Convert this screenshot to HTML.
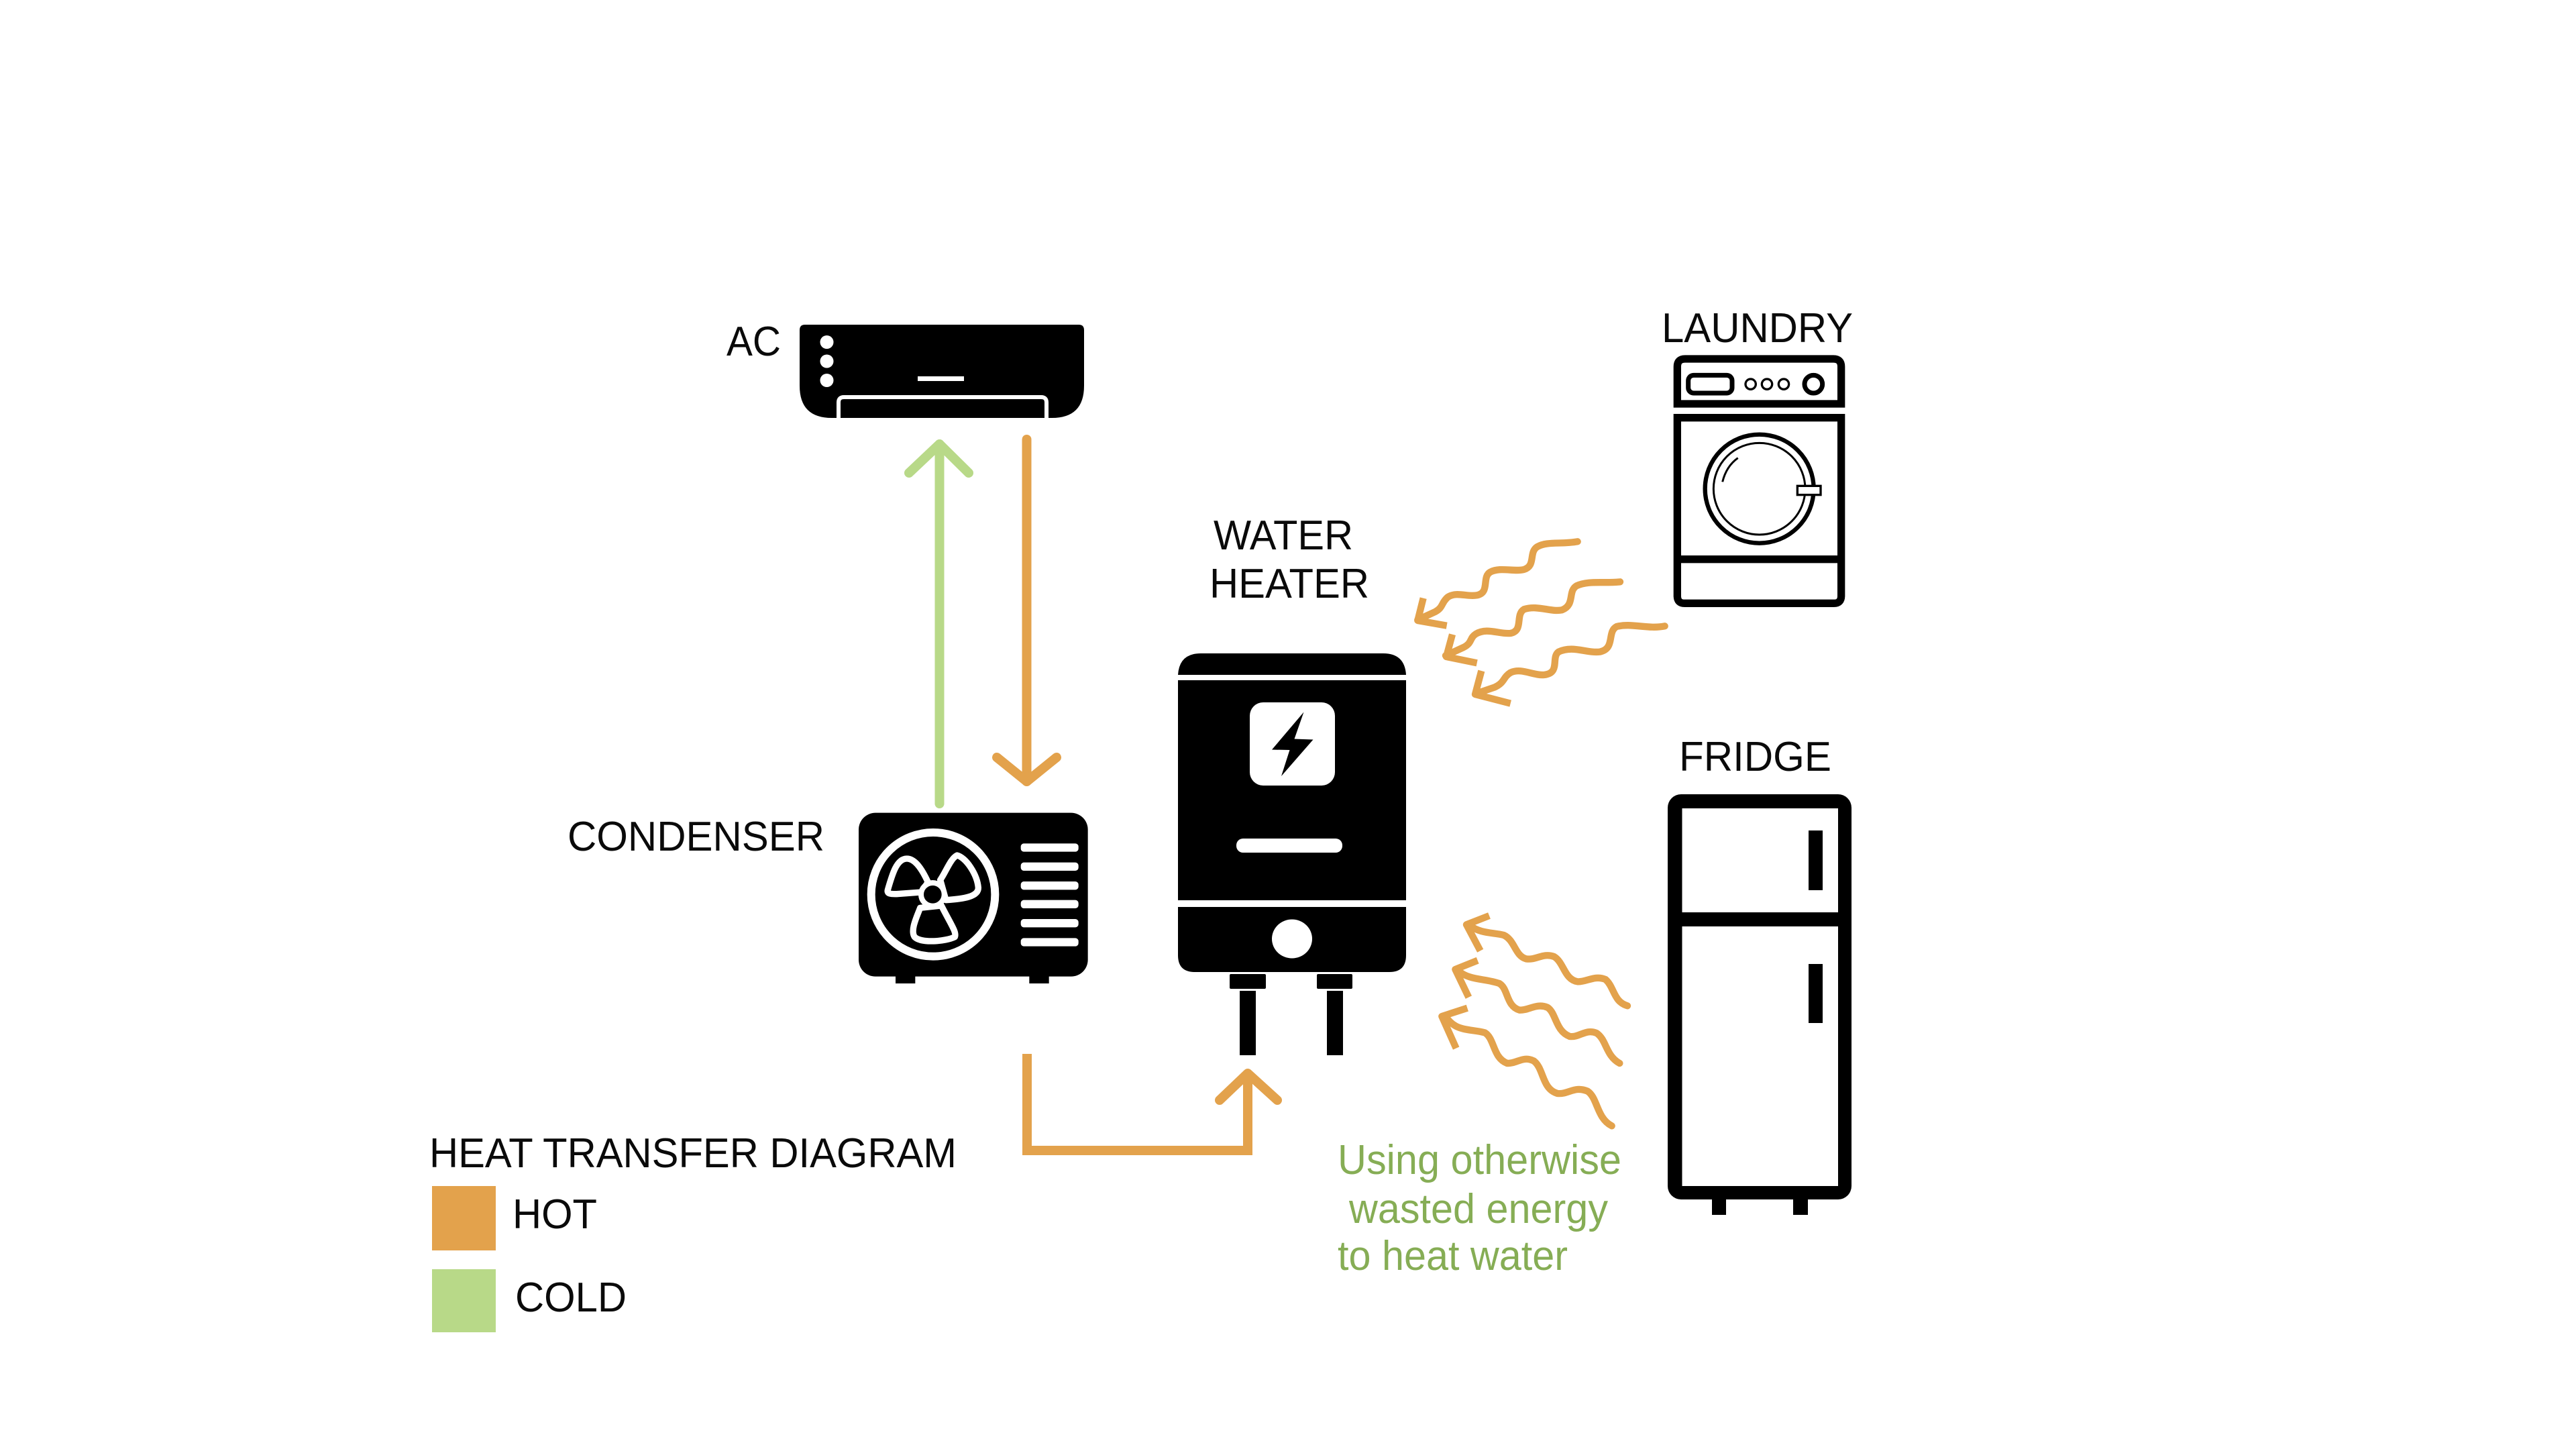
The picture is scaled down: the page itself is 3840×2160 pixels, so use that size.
<!DOCTYPE html>
<html><head><meta charset="utf-8"><title>Heat Transfer Diagram</title>
<style>html,body{margin:0;padding:0;background:#fff}svg{display:block}text{font-family:"Liberation Sans",Arial,sans-serif;font-size:62px;fill:#0a0a0a}.g{fill:#86ad55}</style></head>
<body>
<svg width="3840" height="2160" viewBox="0 0 3840 2160" xmlns="http://www.w3.org/2000/svg">
<rect width="3840" height="2160" fill="#fff"/>

<!-- labels -->
<text x="1083" y="530" textLength="81" lengthAdjust="spacingAndGlyphs">AC</text>
<text x="2477" y="510" textLength="285" lengthAdjust="spacingAndGlyphs">LAUNDRY</text>
<text x="846" y="1268" textLength="383" lengthAdjust="spacingAndGlyphs">CONDENSER</text>
<text x="1809" y="819" textLength="208" lengthAdjust="spacingAndGlyphs">WATER</text>
<text x="1803" y="891" textLength="238" lengthAdjust="spacingAndGlyphs">HEATER</text>
<text x="2503" y="1149" textLength="227" lengthAdjust="spacingAndGlyphs">FRIDGE</text>
<text x="640" y="1740" textLength="786" lengthAdjust="spacingAndGlyphs">HEAT TRANSFER DIAGRAM</text>
<text x="764" y="1831" textLength="126" lengthAdjust="spacingAndGlyphs">HOT</text>
<text x="768" y="1955" textLength="166" lengthAdjust="spacingAndGlyphs">COLD</text>
<text class="g" x="1994" y="1750" textLength="423" lengthAdjust="spacingAndGlyphs">Using otherwise</text>
<text class="g" x="2011" y="1823" textLength="386" lengthAdjust="spacingAndGlyphs">wasted energy</text>
<text class="g" x="1994" y="1893" textLength="343" lengthAdjust="spacingAndGlyphs">to heat water</text>

<!-- legend -->
<rect x="644" y="1768" width="95" height="96" fill="#e3a24c"/>
<rect x="644" y="1892" width="95" height="94" fill="#b8d988"/>

<!-- AC unit -->
<path d="M1200,484 H1608 Q1616,484 1616,492 V575 Q1616,623 1568,623 H1240 Q1192,623 1192,575 V492 Q1192,484 1200,484 Z" fill="#000"/>
<circle cx="1232.5" cy="510" r="10" fill="#fff"/><circle cx="1232.5" cy="538.5" r="10" fill="#fff"/><circle cx="1232.5" cy="567" r="10" fill="#fff"/>
<rect x="1368" y="561" width="69" height="7" fill="#fff"/>
<path d="M1250,623 V600 Q1250,592 1258,592 H1552 Q1560,592 1560,600 V623" fill="none" stroke="#fff" stroke-width="6"/>

<!-- AC arrows -->
<g fill="none" stroke="#b8d988" stroke-width="14" stroke-linecap="round" stroke-linejoin="round">
<path d="M1400.5,1198 V662"/><path d="M1355,705 L1400.5,662 L1444,705"/>
</g>
<g fill="none" stroke="#e3a24c" stroke-width="14" stroke-linecap="round" stroke-linejoin="round">
<path d="M1530.5,655 V1165"/><path d="M1486,1129 L1530.5,1165 L1575,1129"/>
</g>

<!-- condenser -->
<g transform="translate(1250 1180) scale(0.33333)">
<rect x="255" y="780" width="88" height="78" fill="#000"/><rect x="853" y="780" width="88" height="78" fill="#000"/>
<rect x="90" y="95" width="1025" height="732" rx="75" fill="#000"/>
<circle cx="423" cy="460" r="277" fill="none" stroke="#fff" stroke-width="36"/>
<g fill="#000" stroke="#fff" stroke-width="28" stroke-linejoin="round">
<path d="M400,405 C370,340 340,300 305,300 C260,300 240,370 220,440 C215,460 240,458 260,458 L370,450 Z"/>
<path d="M455,395 C480,360 500,300 530,285 C570,295 620,370 625,430 C625,470 560,480 480,485 Z"/>
<path d="M365,520 C350,560 320,620 340,650 C370,680 480,670 520,650 C530,630 500,590 460,510 Z"/>
</g>
<circle cx="421" cy="460" r="52" fill="#000" stroke="#fff" stroke-width="24"/>
<g fill="#fff">
<rect x="815" y="232" width="258" height="37" rx="14"/><rect x="815" y="317" width="258" height="37" rx="14"/><rect x="815" y="402" width="258" height="37" rx="14"/>
<rect x="815" y="485" width="258" height="37" rx="14"/><rect x="815" y="570" width="258" height="37" rx="14"/><rect x="815" y="655" width="258" height="37" rx="14"/>
</g>
</g>

<!-- water heater -->
<path d="M1756,1006 Q1758,974 1790,974 H2062 Q2094,974 2096,1006 Z" fill="#000"/>
<rect x="1756" y="1014" width="340" height="328" fill="#000"/>
<path d="M1756,1352 H2096 V1424 Q2096,1449 2071,1449 H1781 Q1756,1449 1756,1424 Z" fill="#000"/>
<rect x="1863" y="1047" width="127" height="124" rx="20" fill="#fff"/>
<path d="M1943.5,1061.5 L1929.5,1101.5 L1957.5,1102.5 L1910,1157 L1922.5,1118 L1896,1117.5 Z" fill="#000"/>
<rect x="1843" y="1250" width="158" height="21" rx="10" fill="#fff"/>
<ellipse cx="1926" cy="1399.5" rx="30" ry="29" fill="#fff"/>
<rect x="1833" y="1452" width="54" height="22" rx="2" fill="#000"/><rect x="1963" y="1452" width="53" height="22" rx="2" fill="#000"/>
<rect x="1848" y="1477" width="24" height="96" fill="#000"/><rect x="1978" y="1477" width="24" height="96" fill="#000"/>

<!-- L arrow -->
<g fill="none" stroke="#e3a24c" stroke-width="14" stroke-linejoin="miter">
<path d="M1531,1571 V1715 H1860 V1600"/>
<path d="M1818,1640 L1860,1600 L1904,1640" stroke-linecap="round" stroke-linejoin="round"/>
</g>

<!-- heat waves top -->
<g transform="translate(2080 780) scale(0.33333)" fill="none" stroke="#e3a24c" stroke-width="31" stroke-linecap="round" stroke-linejoin="round">
<path d="M815,82 C740,95 680,80 635,105 C595,130 630,190 575,207 C530,218 470,195 425,218 C385,240 425,310 365,322 C320,330 275,305 235,330 C205,355 215,375 180,395 L100,432"/>
<path d="M125,335 L100,435 L230,458" stroke-linecap="butt"/>
<path d="M1005,262 C930,270 865,255 810,280 C770,305 805,365 745,388 C695,398 635,365 575,385 C535,410 575,480 515,492 C465,497 410,465 360,495 C330,515 345,535 305,555 L225,592"/>
<path d="M255,497 L228,597 L365,625" stroke-linecap="butt"/>
<path d="M1205,460 C1130,475 1055,445 990,462 C945,485 985,560 915,575 C855,582 795,545 730,575 C695,600 740,670 665,678 C615,682 565,645 515,668 C480,690 490,712 445,733 L360,762"/>
<path d="M385,660 L357,765 L515,806" stroke-linecap="butt"/>
</g>

<!-- heat waves bottom -->
<g transform="translate(2130 1340) scale(0.33333)" fill="none" stroke="#e3a24c" stroke-width="31" stroke-linecap="round" stroke-linejoin="round">
<path d="M185,120 C230,155 290,150 335,162 C385,185 385,255 435,268 C480,275 510,240 560,258 C605,285 605,360 665,370 C705,372 740,340 790,360 C830,395 825,460 888,478"/>
<path d="M270,75 L168,115 L230,232" stroke-linecap="butt"/>
<path d="M130,320 C180,365 250,355 315,378 C355,400 345,480 405,497 C445,500 480,465 530,485 C570,510 565,590 630,615 C675,620 700,580 750,600 C795,630 790,700 853,735"/>
<path d="M218,275 L118,315 L178,440" stroke-linecap="butt"/>
<path d="M75,525 C120,595 180,580 250,598 C295,625 285,710 350,735 C395,737 420,700 470,725 C515,760 505,850 575,870 C625,875 650,835 710,860 C755,890 750,980 818,1015"/>
<path d="M172,488 L58,525 L122,668" stroke-linecap="butt"/>
</g>

<!-- laundry -->
<g transform="translate(2460 500) scale(0.33333)" fill="none" stroke="#000">
<path d="M121,306 V140 Q121,105 156,105 H819 Q854,105 854,140 V306 Z" stroke-width="34"/>
<path d="M121,368 H854 V1165 Q854,1198 821,1198 H154 Q121,1198 121,1165 Z" stroke-width="34"/>
<path d="M121,1001 H854" stroke-width="34"/>
<rect x="170" y="178" width="196" height="80" rx="24" stroke-width="21"/>
<circle cx="449" cy="218" r="23" stroke-width="10"/><circle cx="522" cy="218" r="23" stroke-width="10"/><circle cx="597" cy="218" r="23" stroke-width="10"/>
<circle cx="730" cy="218" r="40" stroke-width="21"/>
<circle cx="488" cy="686" r="243" stroke-width="19"/>
<circle cx="488" cy="686" r="205" stroke-width="9"/>
<path d="M323,655 Q340,585 392,548" stroke-width="9"/>
<rect x="658" y="673" width="104" height="40" fill="#fff" stroke-width="10"/>
</g>

<!-- fridge -->
<rect x="2552" y="1770" width="21" height="41" fill="#000"/><rect x="2673" y="1770" width="22" height="41" fill="#000"/>
<rect x="2486" y="1184" width="274" height="604" rx="20" fill="#000"/>
<rect x="2507.5" y="1205" width="232.5" height="155" fill="#fff"/>
<rect x="2507.5" y="1381" width="232.5" height="387" fill="#fff"/>
<rect x="2696" y="1238" width="21" height="89" fill="#000"/>
<rect x="2696" y="1437" width="21" height="88" fill="#000"/>
</svg>
</body></html>
